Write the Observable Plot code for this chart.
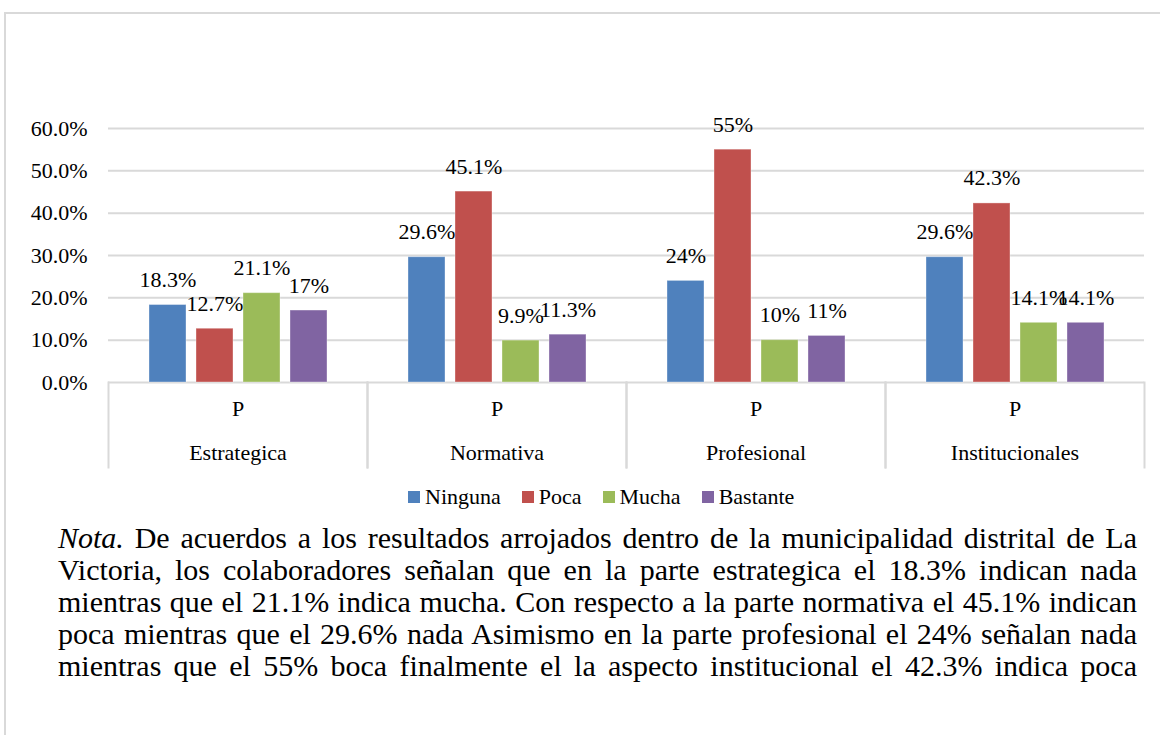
<!DOCTYPE html>
<html>
<head>
<meta charset="utf-8">
<script src="https://cdn.jsdelivr.net/npm/d3@7"></script>
<script src="https://cdn.jsdelivr.net/npm/@observablehq/plot@0.6"></script>
<style>
  body { margin: 0; background: #fff; font-family: 'Liberation Serif', 'Times New Roman', serif; color: #000; }
  #wrap { position: relative; width: 1160px; height: 735px; overflow: hidden; background: #fff; }
  #border { position: absolute; left: 4px; top: 12px; right: -10px; bottom: -10px; border-left: 2px solid #d9d9d9; border-top: 2px solid #d9d9d9; }
  #chart { position: absolute; left: 0; top: 0; }
  #chart svg, #chart text { font-family: 'Liberation Serif', 'Times New Roman', serif; }
  #legend { position: absolute; left: 408px; top: 484px; height: 26px; display: flex; align-items: center; font-size: 22px; line-height: 26px; }
  #legend .item { display: flex; align-items: center; margin-right: 21px; }
  #legend .sw { width: 12px; height: 12px; margin-right: 5px; }
  #nota { position: absolute; left: 58px; top: 522px; width: 1079px; font-size: 30px; line-height: 32px; }
  #nota div { text-align: justify; text-align-last: justify; white-space: nowrap; }
</style>
</head>
<body>
<div id="wrap">
  <div id="border"></div>
  <div id="chart"></div>
  <div id="legend"></div>
  <div id="nota"></div>
</div>
<script>
// ---- data ----
const groups = ["Estrategica", "Normativa", "Profesional", "Institucionales"];
const series = ["Ninguna", "Poca", "Mucha", "Bastante"];
const colors = ["#4F81BD", "#C0504D", "#9BBB59", "#8064A2"];
const ninguna  = [18.3, 29.6, 24, 29.6];
const poca     = [12.7, 45.1, 55, 42.3];
const mucha    = [21.1, 9.9, 10, 14.1];
const bastante = [17, 11.3, 11, 14.1];
const subLabel = "P";
const yTicks = [0, 10, 20, 30, 40, 50, 60];
const notaLines = [
  ["Nota.", " De acuerdos a los resultados arrojados dentro de la municipalidad distrital de La"],
  ["", "Victoria, los colaboradores señalan que en la parte estrategica el 18.3% indican nada"],
  ["", "mientras que el 21.1% indica mucha. Con respecto a la parte normativa el 45.1% indican"],
  ["", "poca mientras que el 29.6% nada Asimismo en la parte profesional el 24% señalan nada"],
  ["", "mientras que el 55% boca finalmente el la aspecto institucional el 42.3% indica poca"]
];

const valuesBySeries = [ninguna, poca, mucha, bastante];
const data = [];
groups.forEach((g, gi) => {
  series.forEach((s, si) => {
    data.push({group: g, series: s, value: valuesBySeries[si][gi]});
  });
});

const font = "'Liberation Serif', 'Times New Roman', serif";

const chart = Plot.plot({
  width: 1160,
  height: 475,
  marginLeft: 108,
  marginRight: 16,
  marginTop: 128,
  marginBottom: 93,
  style: { fontFamily: font, fontSize: "22px", color: "#000", background: "transparent", overflow: "visible" },
  fx: { domain: groups, padding: 0, axis: null, label: null },
  x: { domain: series, axis: null, label: null, paddingInner: 0.213, paddingOuter: 0.86 },
  y: { domain: [0, 60], axis: null, label: null },
  color: { domain: series, range: colors },
  marks: [
    Plot.gridY(yTicks, { stroke: "#d9d9d9", strokeOpacity: 1, strokeWidth: 2 }),
    Plot.axisY(yTicks, { tickSize: 0, tickPadding: 21, label: null, tickFormat: d => d.toFixed(1) + "%", fontSize: 22, fill: "#000" }),
    Plot.frame({ anchor: "left", insetTop: 254, insetBottom: -85, stroke: "#d9d9d9", strokeWidth: 2 }),
    Plot.frame({ anchor: "right", insetTop: 254, insetBottom: -85, stroke: "#d9d9d9", strokeWidth: 2 }),
    Plot.barY(data, { fx: "group", x: "series", y: "value", fill: "series", stroke: "#ffffff", strokeOpacity: 0.35, strokeWidth: 1 }),
    Plot.text(data, { fx: "group", x: "series", y: "value", text: d => d.value + "%", dy: -18, lineAnchor: "bottom", fontSize: 22, fill: "#000" }),
    Plot.text(groups, { fx: d => d, text: () => subLabel, frameAnchor: "bottom", dy: 33, fontSize: 22, fill: "#000" }),
    Plot.text(groups, { fx: d => d, text: d => d, frameAnchor: "bottom", dy: 77, fontSize: 22, fill: "#000" })
  ]
});
document.getElementById("chart").appendChild(chart);

// legend
const legend = document.getElementById("legend");
series.forEach((s, i) => {
  const item = document.createElement("div");
  item.className = "item";
  const sw = document.createElement("div");
  sw.className = "sw";
  sw.style.background = colors[i];
  const t = document.createElement("span");
  t.textContent = s;
  item.appendChild(sw);
  item.appendChild(t);
  legend.appendChild(item);
});

// nota
const nota = document.getElementById("nota");
notaLines.forEach(([it, rest]) => {
  const line = document.createElement("div");
  if (it) {
    const em = document.createElement("i");
    em.textContent = it;
    line.appendChild(em);
  }
  line.appendChild(document.createTextNode(rest));
  nota.appendChild(line);
});
</script>
</body>
</html>
